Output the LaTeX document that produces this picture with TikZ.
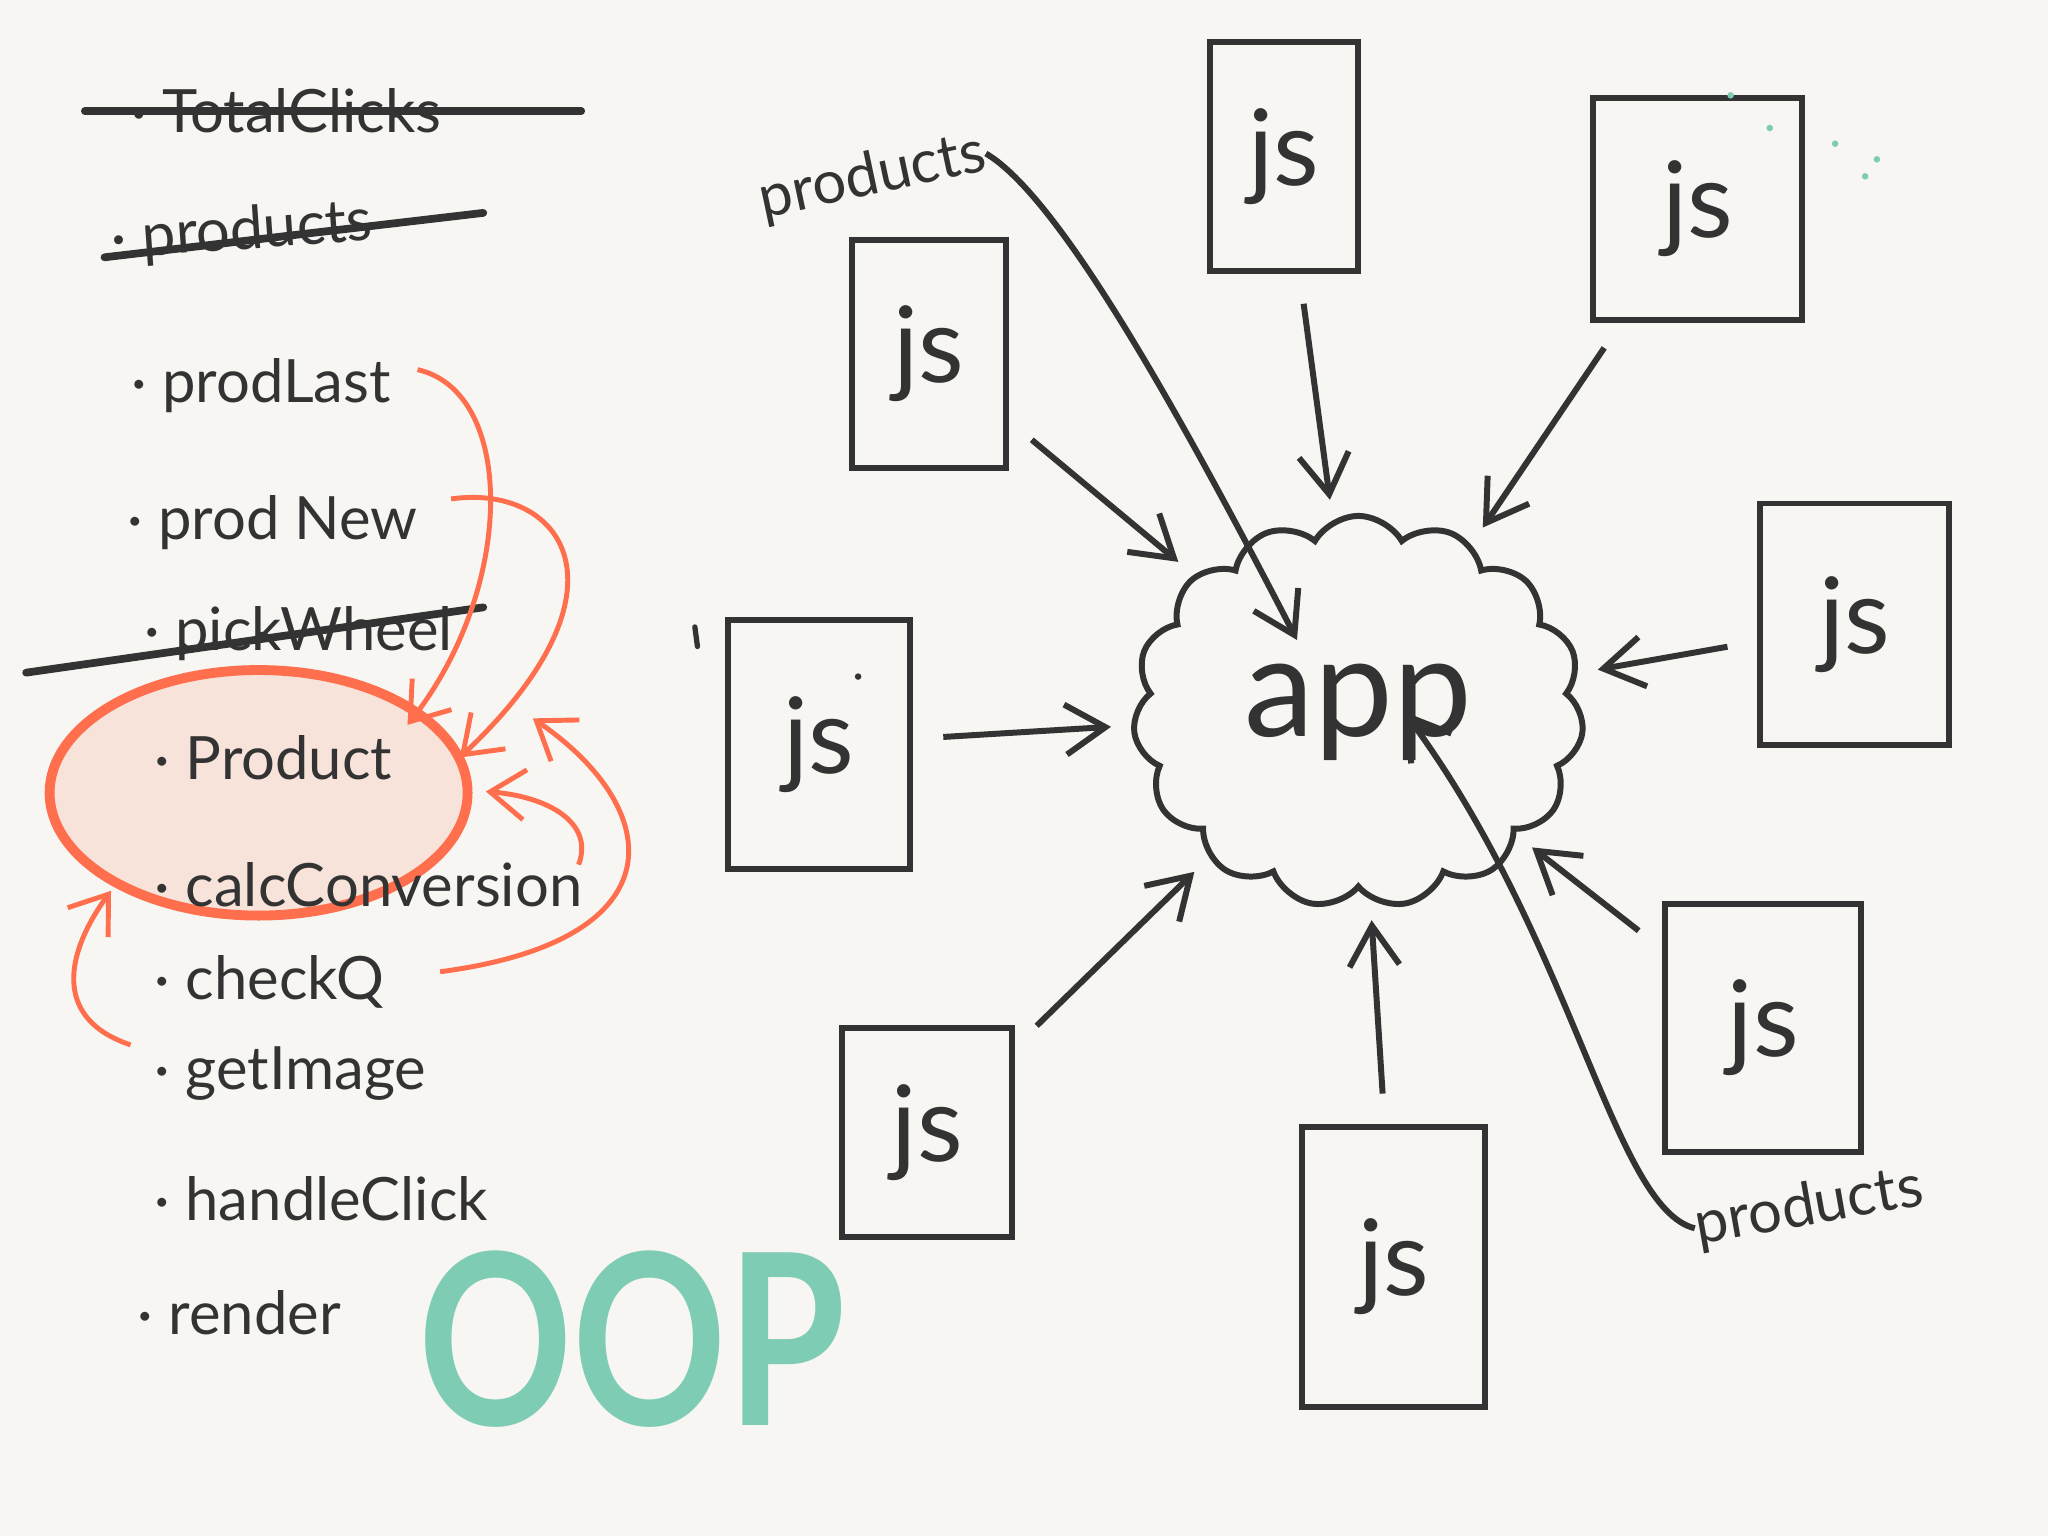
\documentclass[tikz,border=0pt]{standalone}
\usepackage{fontspec}
\setmainfont{Lato}
\usetikzlibrary{arrows.meta,positioning,shapes.geometric,shapes.symbols}
\definecolor{paper}{HTML}{F7F6F2}
\definecolor{ink}{HTML}{333333}
\definecolor{coral}{HTML}{FF6E4D}
\definecolor{blush}{HTML}{F8E3DA}
\definecolor{mint}{HTML}{7ECCB4}
\newcommand\px{0.01306cm}
\begin{document}
\begin{tikzpicture}[x=0.01306cm, y=-0.01306cm,
 it/.style={anchor=west, inner sep=0pt, text=ink, font=\fontsize{17}{20}\selectfont},
 js/.style={draw=ink, line width=1.7pt, text=ink, font=\fontsize{30}{32}\selectfont},
 a/.style={-{Straight Barb[length=4mm,width=5mm]}, draw=ink, line width=1.7pt, shorten <=3mm, shorten >=2mm},
 c/.style={-{Straight Barb[length=4mm,width=5mm]}, draw=ink, line width=1.7pt},
 o/.style={-{Straight Barb[length=3.5mm,width=5mm]}, draw=coral, line width=1.4pt},
 strike/.style={draw=ink, line width=2.2pt, line cap=round}]
\fill[paper] (0,0) rectangle (1568,1176);
\useasboundingbox (0,0) rectangle (1568,1176);

% the class in focus
\node[ellipse, draw=coral, fill=blush, line width=2.8pt, minimum width=320*\px, minimum height=188*\px] (ell) at (198,607) {};

% list of members
\node[it] (tc) at (100,85) {· TotalClicks};
\node[it, rotate=4] (pr) at (85,185) {· products};
\node[it] (pl) at (100,295) {· prodLast};
\node[it] (pn) at (97,400) {· prod New};
\node[it] (pw) at (110,485) {· pickWheel};
\node[it] (pd) at (118,580) {· Product};
\node[it] (cc) at (118,677) {· calcConversion};
\node[it] (cq) at (118,752) {· checkQ};
\node[it] (gi) at (118,822) {· getImage};
\node[it] (hc) at (118,918) {· handleClick};
\node[it] (rd) at (105,1005) {· render};
\draw[strike] (65,85) -- (445,85);
\draw[strike] (80,197) -- (370,163);
\draw[strike] (20,515) -- (370,465);

% moved into Product
\coordinate (e1) at (312,555);
\coordinate (e2) at (352,580);
\coordinate (e3) at (372,606);
\coordinate (e4) at (408,550);
\coordinate (e5) at (85,682);
\draw[o] (pl.east)+(20,-12) .. controls (395,300) and (395,450) .. (e1);
\draw[o] (pn.east)+(25,-18) .. controls (430,370) and (490,450) .. (e2);
\draw[o] (443,662) .. controls (455,630) and (420,610) .. (e3);
\draw[o] (cq.east)+(42,-8) .. controls (520,720) and (510,620) .. (e4);
\draw[o] (100,800) .. controls (40,780) and (50,730) .. (e5);

\node[text=mint, font=\fontsize{68}{68}\selectfont\bfseries] (oop) at (484,1025) {\scalebox{0.8}[1]{OOP}};

% modules around the app
\node[cloud, draw=ink, line width=1.7pt, cloud puffs=15, cloud puff arc=120, cloud ignores aspect,
 minimum width=345*\px, minimum height=300*\px, text=ink, font=\fontsize{40}{44}\selectfont] (app) at (1040,545) {app};
\node[js, minimum width=118*\px, minimum height=175*\px] (b1) at (711,271) {js};
\node[js, minimum width=113*\px, minimum height=175*\px] (b2) at (983,120) {js};
\node[js, minimum width=160*\px, minimum height=170*\px] (b3) at (1300,160) {js};
\node[js, minimum width=145*\px, minimum height=185*\px] (b4) at (1420,478) {js};
\node[js, minimum width=150*\px, minimum height=190*\px] (b5) at (1350,787) {js};
\node[js, minimum width=140*\px, minimum height=215*\px] (b6) at (1067,970) {js};
\node[js, minimum width=130*\px, minimum height=160*\px] (b7) at (710,867) {js};
\node[js, minimum width=140*\px, minimum height=190*\px] (b8) at (627,570) {js};
\foreach \b in {b1,b2,b3,b4,b5,b6,b7,b8}
  \draw[a] (\b) -- (app);

% shared data
\node[it, anchor=center, rotate=12] (p1) at (668,136) {products};
\node[it, anchor=center, rotate=10] (p2) at (1385,925) {products};
\coordinate (t1) at (993,490);
\coordinate (t2) at (1075,545);
\draw[c] (p1.east) .. controls (810,150) and (900,310) .. (t1);
\draw[c] (p2.west) .. controls (1235,925) and (1205,720) .. (t2);

% stray marks
\foreach \p in {(1325,73),(1355,98),(1405,110),(1437,122),(1428,135)}
  \fill[mint] \p circle (2.5);
\fill[ink] (657,518) circle (2.5);
\draw[ink, line width=1.5pt, line cap=round] (532,480) -- (534,495);
\end{tikzpicture}
\end{document}
